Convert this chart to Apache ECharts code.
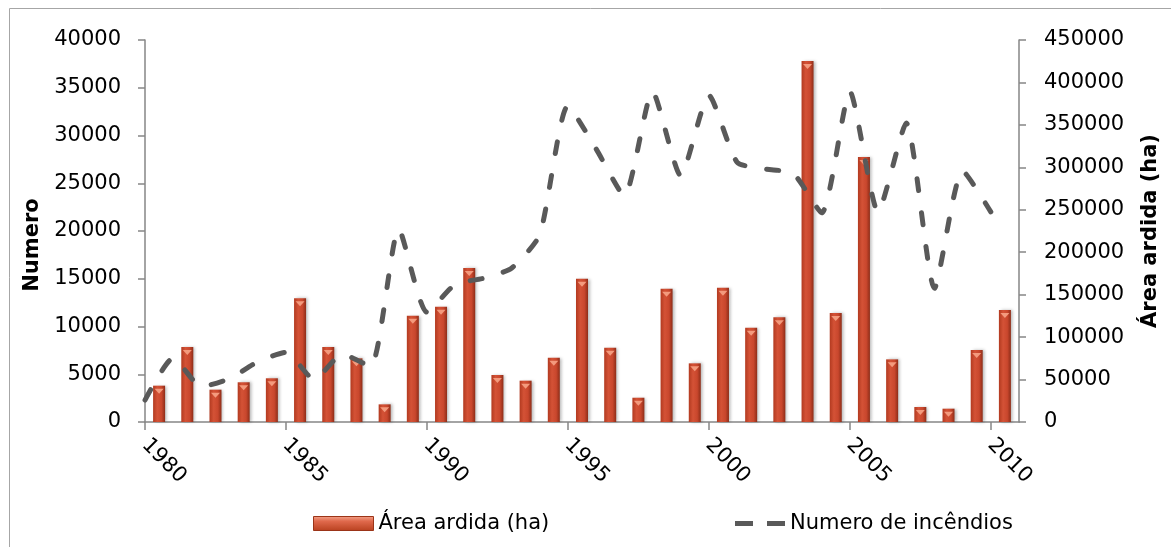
<!DOCTYPE html>
<html>
<head>
<meta charset="utf-8">
<title>Incêndios florestais 1980-2010</title>
<script src="https://cdn.jsdelivr.net/npm/echarts@6/dist/echarts.min.js"></script>
<style>
  html, body { margin: 0; padding: 0; background: #ffffff; }
  #chart { width: 1171px; height: 547px; }
</style>
</head>
<body>
<div id="chart"></div>
<script>
// Years shown on the horizontal axis
const years = [1980, 1981, 1982, 1983, 1984, 1985, 1986, 1987, 1988, 1989,
               1990, 1991, 1992, 1993, 1994, 1995, 1996, 1997, 1998, 1999,
               2000, 2001, 2002, 2003, 2004, 2005, 2006, 2007, 2008, 2009, 2010];

// Burned area per year (ha), right axis
const areaArdida = [42800, 88400, 38100, 46800, 51500, 145700, 88400, 75000, 20800, 125200,
                    135800, 181400, 55400, 48700, 75800, 168800, 87500, 28600, 157000, 69100,
                    158200, 111100, 123300, 425300, 128400, 312200, 73800, 17700, 15700, 84800, 131900];

// Number of fires per year, left axis
const numeroIncendios = [2300, 6700, 3700, 4550, 6300, 7300, 4450, 7100, 5800, 20200,
                         11500, 14400, 15050, 16100, 19600, 33100, 28600, 23700, 34600, 25800,
                         34200, 27200, 26500, 26000, 21900, 34600, 22000, 31300, 14000, 26300, 22000];

// Labelled years on the horizontal axis
const yearTicks = [1980, 1985, 1990, 1995, 2000, 2005, 2010];

const FONT = 'DejaVu Sans';
const AXIS_GRAY = '#868686';
const LINE_GRAY = '#595959';

const chart = echarts.init(document.getElementById('chart'), null, { renderer: 'canvas' });

const barGradient = new echarts.graphic.LinearGradient(0, 0, 1, 0, [
  { offset: 0, color: '#b23a20' },
  { offset: 0.35, color: '#d45236' },
  { offset: 0.7, color: '#c9472d' },
  { offset: 1, color: '#8e2d18' }
]);

const legendBarGradient = new echarts.graphic.LinearGradient(0, 0, 0, 1, [
  { offset: 0, color: '#f3a48c' },
  { offset: 0.35, color: '#e0694c' },
  { offset: 1, color: '#b8401f' }
]);

const plainNumber = v => String(v);

const option = {
  backgroundColor: '#ffffff',
  animation: false,
  textStyle: { fontFamily: FONT, color: '#000000' },
  grid: { left: 145, right: 152, top: 40, bottom: 125, containLabel: false },
  graphic: [
    {
      // chart frame (left and top edges)
      type: 'polyline',
      shape: { points: [[9.5, 547], [9.5, 8.5], [1171, 8.5]] },
      style: { stroke: '#a6a6a6', lineWidth: 1, fill: null },
      silent: true
    }
  ],
  xAxis: [
    {
      type: 'category',
      data: years.map(String),
      position: 'top',
      show: false
    },
    {
      type: 'value',
      min: 1980,
      max: 2011,
      position: 'bottom',
      axisLine: { show: true, onZero: false, lineStyle: { color: AXIS_GRAY, width: 1.5 } },
      axisTick: { show: true, customValues: yearTicks, length: 8, lineStyle: { color: AXIS_GRAY, width: 1.5 } },
      axisLabel: {
        customValues: yearTicks,
        rotate: -45,
        margin: 20,
        fontSize: 21,
        color: '#000000',
        fontFamily: FONT,
        formatter: plainNumber
      },
      splitLine: { show: false }
    }
  ],
  yAxis: [
    {
      type: 'value',
      position: 'left',
      min: 0,
      max: 40000,
      interval: 5000,
      name: 'Numero',
      nameLocation: 'middle',
      nameRotate: 90,
      nameGap: 82,
      nameTextStyle: { fontWeight: 'bold', fontSize: 21, color: '#000000', fontFamily: FONT, padding: [0, 28, 0, 0] },
      axisLine: { show: true, lineStyle: { color: AXIS_GRAY, width: 1.5 } },
      axisTick: { show: true, length: 7, lineStyle: { color: AXIS_GRAY, width: 1.5 } },
      axisLabel: { fontSize: 21, margin: 24, color: '#000000', fontFamily: FONT, formatter: plainNumber },
      splitLine: { show: false }
    },
    {
      type: 'value',
      position: 'right',
      min: 0,
      max: 450000,
      interval: 50000,
      name: 'Área ardida (ha)',
      nameLocation: 'middle',
      nameRotate: 90,
      nameGap: 121,
      nameTextStyle: { fontWeight: 'bold', fontSize: 21, color: '#000000', fontFamily: FONT },
      axisLine: { show: true, lineStyle: { color: AXIS_GRAY, width: 1.5 } },
      axisTick: { show: true, length: 7, lineStyle: { color: AXIS_GRAY, width: 1.5 } },
      axisLabel: { fontSize: 21, margin: 25, color: '#000000', fontFamily: FONT, formatter: plainNumber },
      splitLine: { show: false }
    }
  ],
  legend: [
    {
      data: [{ name: 'Área ardida (ha)', icon: 'rect', itemStyle: { color: legendBarGradient, borderColor: '#9b3418', borderWidth: 1 } }],
      left: 313,
      top: 513,
      padding: 0,
      itemWidth: 60,
      itemHeight: 14,
      itemGap: 0,
      textStyle: { fontSize: 21, fontFamily: FONT, color: '#000000' }
    },
    {
      data: [{
        name: 'Numero de incêndios',
        icon: 'path://M0,0h18v5h-18z M32,0h18v5h-18z',
        itemStyle: { color: LINE_GRAY }
      }],
      left: 735,
      top: 513,
      padding: 0,
      itemWidth: 50,
      itemHeight: 5,
      itemGap: 0,
      textStyle: { fontSize: 21, fontFamily: FONT, color: '#000000' }
    }
  ],
  series: [
    {
      name: 'Área ardida (ha)',
      type: 'bar',
      xAxisIndex: 0,
      yAxisIndex: 1,
      data: areaArdida,
      barWidth: 12,
      z: 2,
      itemStyle: {
        color: barGradient,
        shadowColor: 'rgba(0,0,0,0.28)',
        shadowBlur: 3,
        shadowOffsetX: 2,
        shadowOffsetY: 0
      }
    },
    {
      // bevel highlight on top of each bar
      name: 'topo',
      type: 'pictorialBar',
      xAxisIndex: 0,
      yAxisIndex: 1,
      data: areaArdida,
      symbol: 'triangle',
      symbolRotate: 180,
      symbolSize: [9, 5],
      symbolPosition: 'end',
      symbolOffset: [0, 3],
      itemStyle: { color: '#f39a7d' },
      silent: true,
      legendHoverLink: false,
      z: 3
    },
    {
      name: 'Numero de incêndios',
      type: 'line',
      xAxisIndex: 1,
      yAxisIndex: 0,
      data: years.map((y, i) => [y, numeroIncendios[i]]),
      showSymbol: false,
      symbol: 'none',
      smooth: 0.2,
      z: 4,
      lineStyle: { color: LINE_GRAY, width: 5, type: [12, 22], dashOffset: 0, cap: 'round' },
      itemStyle: { color: LINE_GRAY }
    }
  ]
};

chart.setOption(option);
</script>
</body>
</html>
